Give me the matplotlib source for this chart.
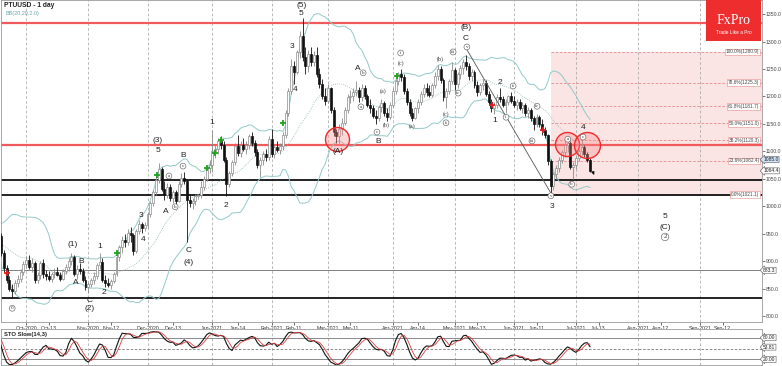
import numpy as np
import pandas as pd
import matplotlib
matplotlib.use("Agg")
import matplotlib.pyplot as plt
from matplotlib.patches import Rectangle
from matplotlib.transforms import blended_transform_factory

plt.rcParams["font.family"] = ["Liberation Sans", "DejaVu Sans"]

# PTUUSD daily bars 2020-09-18 .. 2021-07-08
opens = [945, 915, 888, 866, 850, 846, 860, 868, 880, 895,
         902, 890, 897, 865, 875, 896, 876, 872, 868, 877,
         880, 875, 868, 882, 890, 900, 908, 876, 885, 882,
         866, 852, 858, 866, 872, 892, 898, 866, 860, 856,
         864, 876, 908, 925, 938, 935, 952, 948, 918, 955,
         968, 960, 966, 985, 1005, 1025, 1048, 1068, 1032, 1020,
         1035, 1015, 1025, 1010, 1040, 1052, 1046, 1012, 1005, 1010,
         1018, 1020, 1035, 1050, 1070, 1075, 1100, 1105, 1118, 1112,
         1085, 1040, 1060, 1080, 1110, 1096, 1112, 1105, 1112, 1128,
         1115, 1098, 1075, 1085, 1095, 1090, 1122, 1095, 1108, 1102,
         1110, 1130, 1170, 1210, 1255, 1245, 1280, 1310, 1272, 1255,
         1278, 1262, 1275, 1240, 1222, 1200, 1192, 1215, 1175, 1135,
         1128, 1140, 1152, 1175, 1198, 1200, 1208, 1212, 1198, 1215,
         1200, 1185, 1178, 1165, 1160, 1180, 1188, 1170, 1162, 1185,
         1210, 1228, 1240, 1235, 1210, 1190, 1170, 1160, 1178, 1190,
         1205, 1215, 1208, 1202, 1220, 1238, 1250, 1230, 1198, 1210,
         1228, 1248, 1222, 1240, 1252, 1262, 1255, 1238, 1245, 1220,
         1208, 1220, 1225, 1205, 1190, 1178, 1185, 1198, 1195, 1185,
         1190, 1200, 1192, 1185, 1190, 1178, 1185, 1170, 1175, 1160,
         1150, 1162, 1150, 1138, 1130, 1082, 1036, 1058, 1070, 1085,
         1098, 1112, 1115, 1072, 1075, 1088, 1100, 1108, 1095, 1085]
highs = [952, 920, 892, 872, 858, 866, 875, 885, 900, 910,
         912, 905, 900, 880, 900, 903, 884, 882, 880, 888,
         890, 880, 885, 895, 905, 914, 912, 892, 897, 888,
         872, 862, 870, 880, 896, 915, 905, 874, 870, 868,
         880, 912, 930, 945, 950, 958, 962, 952, 958, 975,
         972, 972, 990, 1010, 1030, 1055, 1078, 1072, 1045, 1042,
         1040, 1030, 1030, 1045, 1060, 1062, 1050, 1020, 1015, 1022,
         1022, 1045, 1055, 1075, 1085, 1139, 1112, 1125, 1128, 1118,
         1090, 1065, 1085, 1115, 1130, 1118, 1125, 1118, 1132, 1136,
         1120, 1105, 1090, 1100, 1105, 1128, 1140, 1112, 1118, 1115,
         1135, 1175, 1215, 1268, 1265, 1285, 1320, 1342, 1290, 1285,
         1290, 1282, 1290, 1252, 1232, 1215, 1222, 1218, 1180, 1140,
         1150, 1160, 1180, 1205, 1212, 1215, 1228, 1218, 1222, 1220,
         1205, 1195, 1185, 1175, 1185, 1195, 1192, 1178, 1190, 1215,
         1232, 1245, 1250, 1240, 1215, 1195, 1178, 1180, 1195, 1210,
         1222, 1225, 1220, 1225, 1245, 1258, 1256, 1234, 1215, 1232,
         1262, 1252, 1245, 1258, 1268, 1275, 1260, 1250, 1248, 1228,
         1225, 1232, 1230, 1210, 1195, 1190, 1205, 1215, 1200, 1195,
         1203, 1208, 1200, 1195, 1195, 1190, 1188, 1180, 1178, 1165,
         1168, 1166, 1158, 1145, 1132, 1086, 1062, 1075, 1090, 1102,
         1118, 1124, 1118, 1080, 1092, 1105, 1122, 1112, 1098, 1088]
lows = [910, 880, 860, 845, 833, 840, 852, 862, 875, 888,
        885, 880, 860, 860, 868, 870, 866, 864, 862, 870,
        872, 864, 865, 876, 884, 893, 872, 868, 876, 862,
        848, 842, 852, 858, 868, 885, 862, 852, 852, 850,
        860, 872, 900, 915, 925, 930, 935, 912, 915, 950,
        952, 955, 960, 980, 1000, 1020, 1042, 1028, 1012, 1015,
        1010, 1005, 1004, 1008, 1035, 1040, 935, 998, 995, 1003,
        1014, 1015, 1030, 1045, 1060, 1062, 1088, 1095, 1105, 1080,
        1018, 1035, 1055, 1075, 1092, 1090, 1100, 1095, 1105, 1110,
        1092, 1070, 1054, 1075, 1082, 1085, 1090, 1088, 1098, 1095,
        1102, 1125, 1165, 1205, 1222, 1240, 1270, 1265, 1240, 1245,
        1255, 1255, 1235, 1215, 1195, 1185, 1188, 1170, 1128, 1115,
        1112, 1130, 1148, 1170, 1188, 1192, 1200, 1190, 1192, 1195,
        1180, 1170, 1160, 1150, 1155, 1172, 1165, 1155, 1158, 1180,
        1205, 1220, 1228, 1205, 1185, 1165, 1155, 1158, 1170, 1185,
        1198, 1200, 1198, 1198, 1215, 1230, 1225, 1192, 1178, 1205,
        1222, 1212, 1215, 1232, 1240, 1248, 1230, 1228, 1215, 1200,
        1202, 1212, 1200, 1185, 1172, 1168, 1178, 1190, 1180, 1170,
        1185, 1188, 1180, 1175, 1175, 1170, 1165, 1160, 1155, 1138,
        1145, 1145, 1130, 1125, 1075, 1021, 1030, 1050, 1062, 1078,
        1090, 1098, 1068, 1050, 1068, 1082, 1094, 1090, 1080, 1062]
closes = [915, 888, 866, 850, 846, 860, 868, 880, 895, 902,
          890, 897, 865, 875, 896, 876, 872, 868, 877, 880,
          875, 868, 882, 890, 900, 908, 876, 885, 882, 866,
          852, 858, 866, 872, 892, 898, 866, 860, 856, 864,
          876, 908, 925, 938, 935, 952, 948, 918, 955, 968,
          960, 966, 985, 1005, 1025, 1048, 1068, 1032, 1020, 1035,
          1015, 1025, 1010, 1040, 1052, 1046, 1012, 1005, 1010, 1018,
          1020, 1035, 1050, 1070, 1075, 1100, 1105, 1118, 1112, 1085,
          1040, 1060, 1080, 1110, 1096, 1112, 1105, 1112, 1128, 1115,
          1098, 1075, 1085, 1095, 1090, 1122, 1095, 1108, 1102, 1110,
          1130, 1170, 1210, 1255, 1245, 1280, 1310, 1272, 1255, 1278,
          1262, 1275, 1240, 1222, 1200, 1192, 1215, 1175, 1135, 1128,
          1140, 1152, 1175, 1198, 1200, 1208, 1212, 1198, 1215, 1200,
          1185, 1178, 1165, 1160, 1180, 1188, 1170, 1162, 1185, 1210,
          1228, 1240, 1235, 1210, 1190, 1170, 1160, 1178, 1190, 1205,
          1215, 1208, 1202, 1220, 1238, 1250, 1230, 1198, 1210, 1228,
          1248, 1222, 1240, 1252, 1262, 1255, 1238, 1245, 1220, 1208,
          1220, 1225, 1205, 1190, 1178, 1185, 1198, 1195, 1185, 1190,
          1200, 1192, 1185, 1190, 1178, 1185, 1170, 1175, 1160, 1150,
          1162, 1150, 1138, 1130, 1082, 1036, 1058, 1070, 1085, 1098,
          1112, 1115, 1072, 1075, 1088, 1100, 1108, 1095, 1085, 1064.4]

# 20 sessions before the first visible bar (off-chart, only feed the indicator windows)
pre_high = [935, 940, 935, 940, 932, 945, 940, 945, 935, 918,
            912, 915, 920, 930, 945, 945, 962, 975, 985, 975]
pre_low = [915, 920, 915, 920, 912, 922, 922, 925, 910, 898,
           892, 898, 902, 910, 925, 928, 940, 955, 960, 945]
pre_close = [925, 930, 925, 930, 920, 935, 930, 935, 915, 905,
             900, 905, 910, 920, 935, 935, 955, 965, 975, 950]

red_levels = [1334.0, 1111.4]
black_levels = [1047.0, 1021.1, 833.4]
grey_level = 883.3

fib_names = ["100.0%", "78.6%", "61.8%", "50.0%", "38.2%", "23.6%", "0.0%"]
fib_levels = [1280.9, 1225.3, 1181.7, 1151.0, 1120.3, 1082.4, 1021.1]

# wave labels: (text, bars after 2020-09-18, price)
wave_big = [("(1)", 25.6, 931), ("B", 28.4, 899), ("A", 26.6, 861), ("C", 31.3, 829), ("(2)", 31.3, 813),
            ("1", 35.2, 926), ("2", 36.6, 842), ("3", 49.7, 983), ("4", 50.4, 940),
            ("(3)", 55.7, 1119), ("5", 55.7, 1102), ("A", 58.6, 990), ("B", 64.6, 1092),
            ("C", 66.7, 920), ("(4)", 66.7, 898), ("1", 74.9, 1152), ("2", 79.8, 1002),
            ("3", 103.3, 1290), ("4", 104.3, 1213), ("5", 106.5, 1351), ("(5)", 106.5, 1366),
            ("(A)", 119.6, 1099), ("A", 126.7, 1250), ("B", 133.8, 1117),
            ("(B)", 165.0, 1326), ("C", 165.0, 1306), ("1", 175.3, 1157), ("2", 177.0, 1226),
            ("3", 195.5, 999), ("4", 206.5, 1144), ("5", 235.6, 981), ("(C)", 235.6, 962)]
wave_circled = [("0", 4.0, 814), ("a", 59.6, 1055), ("b", 61.8, 999), ("c", 64.6, 1073),
                ("b", 128.5, 1243), ("a", 127.7, 1181), ("c", 133.4, 1135),
                ("i", 141.8, 1279), ("ii", 157.9, 1152), ("iii", 160.4, 1281), ("iv", 162.2, 1206),
                ("v", 165.3, 1290), ("i", 179.2, 1162), ("ii", 181.7, 1219), ("iii", 188.4, 1119),
                ("iv", 190.2, 1182), ("v", 195.1, 1019), ("a", 201.1, 1122), ("b", 202.5, 1040),
                ("c", 206.5, 1126), ("2", 235.6, 944)]
wave_paren = [("(a)", 135.6, 1210), ("(b)", 136.5, 1147), ("(c)", 141.8, 1261),
              ("(a)", 145.7, 1146), ("(b)", 155.8, 1268), ("(c)", 157.9, 1168)]

green_marks = [(41.2, 915), (55.4, 1057), (73.1, 1070), (76.0, 1097), (78.1, 1120), (100.1, 1151), (140.5, 1237)]
red_marks = [(2.2, 878), (174.2, 1184), (192.3, 1139)]
big_circles = [(119.1, 1122, 12), (200.8, 1114, 12), (207.8, 1111, 13)]

trend_from = (165.2, 1286)
trend_to = (195.3, 1022)

mid_ticks = ["2020-10-13", "2020-11-12", "2020-12-13", "2021-01-14", "2021-02-11", "2021-03-11",
             "2021-04-14", "2021-05-13", "2021-06-11", "2021-07-13", "2021-08-12", "2021-09-12"]

# ---------------------------------------------------------------
n_pre = len(pre_close)
dates = pd.bdate_range("2020-08-21", "2021-09-30")
xs = np.arange(n_pre, n_pre + len(closes))
o, h, l, c = (np.array(v, dtype=float) for v in (opens, highs, lows, closes))

all_c = pd.Series(pre_close + closes, dtype=float)
all_h = pd.Series(pre_high + highs, dtype=float)
all_l = pd.Series(pre_low + lows, dtype=float)
xa = np.arange(len(all_c))
bb_mid = all_c.rolling(20).mean()
bb_sd = all_c.rolling(20).std(ddof=0)
hh = all_h.rolling(14).max()
ll = all_l.rolling(14).min()
k_raw = 100 * (all_c - ll) / (hh - ll)
k_slow = k_raw.rolling(3).mean()
d_slow = k_slow.rolling(3).mean()

W, H = 782, 366
fig = plt.figure(figsize=(W / 100, H / 100), dpi=100)
ax = fig.add_axes([1 / W, 1 - 321.7 / H, 760.7 / W, 321.7 / H])
axs = fig.add_axes([1 / W, 1 / H, 760.7 / W, 36 / H], sharex=ax)

# x scale: month lines of Oct-2020 and Sep-2021 at given pixel columns
i_oct = dates.searchsorted(pd.Timestamp("2020-10-01"))
i_sep = dates.searchsorted(pd.Timestamp("2021-09-01"))
ppb = (700 - 26.3) / (i_sep - i_oct)
ax.set_xlim(i_oct - 25.3 / ppb, i_oct + (761.7 - 26.3) / ppb)
ax.set_ylim(789.6, 1375.6)
axs.set_ylim(4.2, 104.2)

# fibonacci box
i_fib = dates.searchsorted(pd.Timestamp("2021-06-18")) + 0.2
xr = ax.get_xlim()[1]
ax.add_patch(Rectangle((i_fib, fib_levels[-1]), xr - i_fib, fib_levels[0] - fib_levels[-1],
                       facecolor="#fbe4e4", edgecolor="none", zorder=0))
for lv in fib_levels:
    ax.plot([i_fib, xr], [lv, lv], color="#e58a8a", lw=0.6, ls=(0, (3, 2)), zorder=1)
ytr = blended_transform_factory(ax.transAxes, ax.transData)
for nm, lv in zip(fib_names, fib_levels):
    ax.text(0.997, lv, f"{nm}({lv:.1f})", transform=ytr, ha="right", va="center", fontsize=3.4,
            color="#444", zorder=8,
            bbox=dict(boxstyle="square,pad=0.15", fc="white", ec="#e58a8a", lw=0.4))

# month grid
month_starts = pd.date_range("2020-10-01", "2021-09-01", freq="MS")
mpos = dates.searchsorted(month_starts)
for a in (ax, axs):
    for p in mpos:
        a.axvline(p, color="#a0a0a0", lw=0.5, ls=(0, (4, 3)), zorder=0.5)

# horizontal levels
for lv in red_levels:
    ax.axhline(lv, color="#f05a5a", lw=1.6, zorder=2)
for lv in black_levels:
    ax.axhline(lv, color="#111", lw=1.3, zorder=2)
ax.axhline(grey_level, color="#808080", lw=0.7, zorder=2)

# bollinger bands
ax.plot(xa, bb_mid + 2 * bb_sd, color="#93c9c9", lw=0.7, zorder=2)
ax.plot(xa, bb_mid - 2 * bb_sd, color="#93c9c9", lw=0.7, zorder=2)
ax.plot(xa, bb_mid, color="#8fb5b5", lw=0.6, ls=(0, (1, 1.5)), zorder=2)

# candles
up = c >= o
ax.vlines(xs[up], l[up], h[up], color="#8a8a8a", lw=0.6, zorder=3)
ax.vlines(xs[~up], l[~up], h[~up], color="#111", lw=0.6, zorder=3)
ax.bar(xs[up], (c - o)[up], bottom=o[up], width=0.7, color="white", edgecolor="#8a8a8a", lw=0.5, zorder=4)
ax.bar(xs[~up], (o - c)[~up], bottom=c[~up], width=0.7, color="#111", edgecolor="#111", lw=0.5, zorder=4)

# signal marks
gx, gy = zip(*green_marks)
ax.plot(np.array(gx) + n_pre, gy, "+", color="#1fa31f", ms=4, mew=1.3, zorder=6)
rx, ry = zip(*red_marks)
ax.plot(np.array(rx) + n_pre, ry, "+", color="#e02020", ms=4, mew=1.3, zorder=6)

# red circles
for bx, py, r in big_circles:
    ax.scatter(bx + n_pre, py, s=(2 * r * 0.72) ** 2, facecolor=(1, 0.55, 0.55, 0.35),
               edgecolor="#f02a2a", lw=1.0, zorder=7)

# trend line + arrow
ax.plot([trend_from[0] + n_pre, trend_to[0] + n_pre], [trend_from[1], trend_to[1]],
        color="#555", lw=0.6, zorder=5)
ax.annotate("", xy=(n_pre + 210.8, 1052), xytext=(n_pre + 209.6, 1068),
            arrowprops=dict(arrowstyle="-|>", color="#111", lw=0.7, mutation_scale=4), zorder=7)

# wave labels
for t, bx, py in wave_big:
    ax.text(bx + n_pre, py, t, fontsize=6, color="#222", ha="center", va="center", zorder=9)
for t, bx, py in wave_circled:
    fs = 5 if t == "2" else 3.6
    ax.text(bx + n_pre, py, t, fontsize=fs, color="#333", ha="center", va="center", zorder=9,
            family="Liberation Serif",
            bbox=dict(boxstyle="circle,pad=0.18", fc="white", ec="#666", lw=0.45))
for t, bx, py in wave_paren:
    ax.text(bx + n_pre, py, t, fontsize=4.3, color="#333", ha="center", va="center", zorder=9,
            family="Liberation Serif")

# price axis
ax.yaxis.tick_right()
ax.set_yticks(np.arange(800, 1351, 50))
ax.set_yticklabels([f"{v:.1f}" for v in np.arange(800, 1351, 50)])
ax.tick_params(axis="y", labelsize=3.7, length=2, pad=1, colors="#444", width=0.5)
for val, txt, fc in [(1085.0, "1085.0", "#cfe2f6"), (1064.4, "1064.4", "white"), (883.3, "883.3", "white")]:
    ax.text(1.002, val, txt, transform=ytr, ha="left", va="center", fontsize=3.6, color="#222", zorder=9,
            bbox=dict(boxstyle="larrow,pad=0.1", fc=fc, ec="#555", lw=0.4), clip_on=False)

# date axis
mlabels = [d.strftime("%b-%Y") for d in month_starts]
mids = pd.to_datetime(mid_ticks)
ticks = list(mpos) + list(dates.searchsorted(mids))
tlabels = mlabels + [d.strftime("%b-%d") for d in mids]
ax.set_xticks(ticks)
ax.set_xticklabels(tlabels)
ax.tick_params(axis="x", labelsize=3.8, length=2, pad=1, colors="#333", width=0.5)

# stochastic panel
axs.plot(xa, k_slow, color="#111", lw=0.8, zorder=3)
axs.plot(xa, d_slow, color="#d94040", lw=0.6, zorder=3)
for lv, ls in [(80, "-"), (50, (0, (3, 2))), (20, "-")]:
    axs.axhline(lv, color="#777", lw=0.6, ls=ls, zorder=1)
axs.set_yticks([])
axs.tick_params(axis="x", bottom=False, labelbottom=False)
str_ = blended_transform_factory(axs.transAxes, axs.transData)
for val, txt in [(80, "80.00"), (53.81, "53.81"), (20, "20.00")]:
    axs.text(1.002, val, txt, transform=str_, ha="left", va="center", fontsize=3.5, color="#222",
             bbox=dict(boxstyle="larrow,pad=0.1", fc="white", ec="#555", lw=0.4), clip_on=False)
axs.text(0.004, 0.86, "STO Slow(14,3)", transform=axs.transAxes, fontsize=4.2, weight="bold",
         color="#222", va="center")

for a in (ax, axs):
    for s in a.spines.values():
        s.set_color("#9a9a9a")
        s.set_linewidth(0.6)

ax.text(0.004, 0.983, "PTUUSD - 1 day", transform=ax.transAxes, fontsize=4.8, weight="bold",
        color="#222", va="center")
ax.text(0.006, 0.958, "BB(20,20,2.0)", transform=ax.transAxes, fontsize=4.0, color="#6aa9b0", va="center")

# logo
fig.add_artist(Rectangle((706 / W, 1 - 41 / H), 55 / W, 41 / H, transform=fig.transFigure,
                         facecolor="#ee2d2f", edgecolor="none", zorder=10))
fig.text(733.5 / W, 1 - 21 / H, "FxPro", color="white", fontsize=10, family="Liberation Serif",
         ha="center", va="center", zorder=11)
fig.text(733.5 / W, 1 - 33 / H, "Trade Like a Pro", color="white", fontsize=3.4,
         ha="center", va="center", zorder=11)

fig.savefig("out.png", dpi=100)
